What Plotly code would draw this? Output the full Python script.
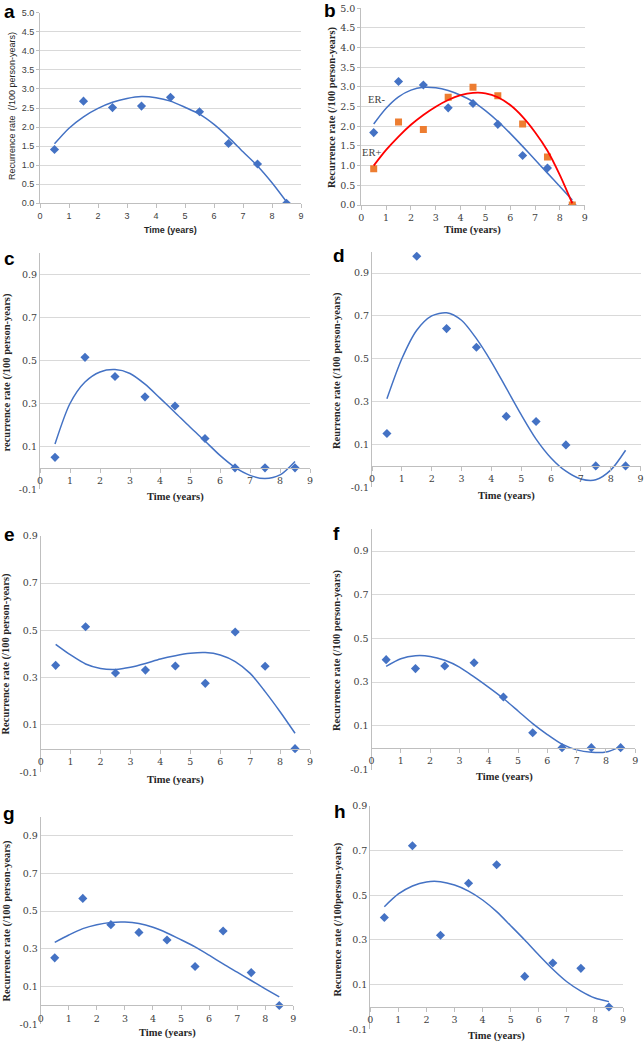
import plotly.graph_objects as go

W, H = 644, 1042

# observed recurrence rates at mid-year points
years = [0.5, 1.5, 2.5, 3.5, 4.5, 5.5, 6.5, 7.5, 8.5]
rate_a = [1.41, 2.68, 2.51, 2.55, 2.78, 2.40, 1.57, 1.03, 0.0]
rate_b_er_neg = [1.84, 3.14, 3.05, 2.47, 2.58, 2.05, 1.26, 0.94, 0.0]
rate_b_er_pos = [0.92, 2.11, 1.92, 2.74, 2.99, 2.78, 2.06, 1.22, 0.0]
rate_c = [0.049, 0.515, 0.426, 0.331, 0.288, 0.137, 0.0, 0.0, 0.0]
rate_d = [0.151, 0.979, 0.641, 0.554, 0.231, 0.207, 0.098, 0.0, 0.0]
rate_e = [0.352, 0.515, 0.320, 0.332, 0.349, 0.276, 0.493, 0.348, 0.0]
rate_f = [0.403, 0.362, 0.374, 0.389, 0.232, 0.068, 0.0, 0.0, 0.0]
rate_g = [0.252, 0.567, 0.428, 0.387, 0.347, 0.206, 0.394, 0.174, 0.0]
rate_h = [0.401, 0.722, 0.321, 0.554, 0.637, 0.137, 0.197, 0.173, 0.0]

# polynomial trendlines
trend_x = [0.5, 1.0, 1.5, 2.0, 2.5, 3.0, 3.5, 4.0, 4.5, 5.0, 5.5, 6.0, 6.5, 7.0, 7.5, 8.0, 8.5]
trend_a = [1.56, 1.97, 2.27, 2.49, 2.65, 2.75, 2.80, 2.77, 2.68, 2.52, 2.34, 2.07, 1.73, 1.35, 0.98, 0.54, 0.04]
trend_b_er_neg = [2.06, 2.46, 2.75, 2.92, 2.99, 2.98, 2.91, 2.79, 2.63, 2.40, 2.13, 1.82, 1.49, 1.15, 0.81, 0.47, 0.13]
trend_b_er_pos = [1.00, 1.40, 1.74, 2.04, 2.29, 2.50, 2.67, 2.79, 2.85, 2.84, 2.74, 2.54, 2.24, 1.85, 1.38, 0.76, 0.04]
trend_c = [0.111, 0.30, 0.40, 0.447, 0.458, 0.44, 0.39, 0.325, 0.258, 0.19, 0.125, 0.058, 0.002, -0.035, -0.05, -0.033, 0.03]
trend_d = [0.313, 0.50, 0.633, 0.70, 0.715, 0.68, 0.594, 0.486, 0.363, 0.239, 0.125, 0.037, -0.025, -0.061, -0.065, -0.02, 0.073]
trend_e = [0.441, 0.396, 0.358, 0.339, 0.335, 0.344, 0.36, 0.379, 0.393, 0.403, 0.406, 0.396, 0.368, 0.318, 0.241, 0.156, 0.065]
trend_f = [0.372, 0.407, 0.421, 0.418, 0.40, 0.369, 0.324, 0.276, 0.225, 0.168, 0.11, 0.06, 0.016, -0.01, -0.021, -0.02, 0.005]
trend_g = [0.334, 0.373, 0.407, 0.428, 0.44, 0.442, 0.434, 0.414, 0.384, 0.348, 0.31, 0.266, 0.22, 0.176, 0.132, 0.088, 0.045]
trend_h = [0.449, 0.506, 0.542, 0.56, 0.561, 0.546, 0.519, 0.479, 0.427, 0.364, 0.30, 0.233, 0.169, 0.113, 0.071, 0.040, 0.024]

x_ticks = list(range(10))
big_ticks = [0.0, 0.5, 1.0, 1.5, 2.0, 2.5, 3.0, 3.5, 4.0, 4.5, 5.0]
small_ticks = [-0.1, 0.1, 0.3, 0.5, 0.7, 0.9]
small_tick_text = ['-0.1', '0.1', '0.3', '0.5', '0.7', '0.9']

BLUE = '#4472C4'
ORANGE = '#ED7D31'
RED = '#FF0000'
GRID = '#D9D9D9'
AXIS = '#BFBFBF'
SANS = 'Liberation Sans'
SERIF = 'Liberation Serif'
TICKSERIF = 'DejaVu Serif'


def px(x):
    return x / W


def py(y):
    return 1 - y / H


# plot areas in pixels: left, right, top, bottom, y range
panels = [
    dict(letter='a', box=(40, 301, 12.7, 203.3), yr=(0, 5), rates=rate_a, trend=trend_a,
         ytitle='Recurrence rate  (/100 person-years)', ytpos=(12, 106), xtpos=(170, 230),
         lpos=(9, 12), sans=True),
    dict(letter='b', box=(361.3, 584.7, 8.3, 205), yr=(0, 5), rates=None, trend=None,
         ytitle='Recurrence rate (/100 person-years)', ytpos=(332, 107), xtpos=(472, 229.7),
         lpos=(330, 10)),
    dict(letter='c', box=(40, 310, 253.3, 489.3), yr=(-0.1, 1.0), rates=rate_c, trend=trend_c,
         ytitle='recurrence rate (/100 person-years)', ytpos=(6.5, 373), xtpos=(175, 497),
         lpos=(9, 258)),
    dict(letter='d', box=(372, 640.5, 251.7, 487.3), yr=(-0.1, 1.0), rates=rate_d, trend=trend_d,
         ytitle='Reurrence rate (/100 person-years)', ytpos=(337, 371), xtpos=(506, 495.7),
         lpos=(338.5, 256)),
    dict(letter='e', box=(40.7, 310, 535.7, 772.3), yr=(-0.1, 0.9), rates=rate_e, trend=trend_e,
         ytitle='Recurrence rate (/100 person-years)', ytpos=(5.5, 654), xtpos=(175.5, 780),
         lpos=(9, 534)),
    dict(letter='f', box=(371.5, 635.3, 529.3, 769.5), yr=(-0.1, 1.0), rates=rate_f, trend=trend_f,
         ytitle='Recurrence rate (/100 person-years)', ytpos=(337, 650), xtpos=(504, 776.7),
         lpos=(336.5, 533)),
    dict(letter='g', box=(40.7, 293.3, 816.7, 1024.3), yr=(-0.1, 1.0), rates=rate_g, trend=trend_g,
         ytitle='Recurrence rate (/100 person-years)', ytpos=(6, 920.5), xtpos=(167.5, 1032.7),
         lpos=(9, 813)),
    dict(letter='h', box=(370.3, 623, 806, 1029.3), yr=(-0.1, 0.9), rates=rate_h, trend=trend_h,
         ytitle='Recurence rate (/100person-years)', ytpos=(337, 919.5), xtpos=(496, 1035.5),
         lpos=(339.5, 811)),
]

fig = go.Figure()
layout = {}
annotations = []

for i, p in enumerate(panels):
    n = '' if i == 0 else str(i + 1)
    xa, ya = 'x' + n, 'y' + n
    left, right, top, bottom = p['box']
    ymin, ymax = p['yr']
    sans = p.get('sans', False)
    tick_font = dict(family=SANS if sans else TICKSERIF, size=9 if sans else 9.5, color='#404040')

    if p['letter'] == 'b':
        fig.add_trace(go.Scatter(x=years, y=rate_b_er_neg, mode='markers', xaxis=xa, yaxis=ya,
                                 marker=dict(symbol='diamond', size=7, color=BLUE), showlegend=False))
        fig.add_trace(go.Scatter(x=years, y=rate_b_er_pos, mode='markers', xaxis=xa, yaxis=ya,
                                 marker=dict(symbol='square', size=7, color=ORANGE), showlegend=False))
        fig.add_trace(go.Scatter(x=trend_x, y=trend_b_er_neg, mode='lines', xaxis=xa, yaxis=ya,
                                 line=dict(color=BLUE, width=1.5, shape='spline', smoothing=0.8),
                                 showlegend=False))
        fig.add_trace(go.Scatter(x=trend_x, y=trend_b_er_pos, mode='lines', xaxis=xa, yaxis=ya,
                                 line=dict(color=RED, width=1.8, shape='spline', smoothing=0.8),
                                 showlegend=False))
        annotations.append(dict(x=0.63, y=2.69, xref=xa, yref=ya, text='ER-', showarrow=False,
                                font=dict(family=SERIF, size=10.5, color='#404040')))
        annotations.append(dict(x=0.43, y=1.33, xref=xa, yref=ya, text='ER+', showarrow=False,
                                font=dict(family=SERIF, size=10.5, color='#404040')))
    else:
        fig.add_trace(go.Scatter(x=trend_x, y=p['trend'], mode='lines', xaxis=xa, yaxis=ya,
                                 line=dict(color=BLUE, width=1.5, shape='spline', smoothing=0.8),
                                 showlegend=False))
        fig.add_trace(go.Scatter(x=years, y=p['rates'], mode='markers', xaxis=xa, yaxis=ya,
                                 marker=dict(symbol='diamond', size=7, color=BLUE), showlegend=False))

    ydom = [py(bottom), py(top)]
    if ymin < 0:
        zero_px = bottom - (0 - ymin) / (ymax - ymin) * (bottom - top)
        xaxis = dict(anchor='free', position=py(zero_px))
        yaxis = dict(tickvals=small_ticks, ticktext=small_tick_text, ticks='')
    else:
        xaxis = dict(anchor=ya)
        yaxis = dict(tickvals=big_ticks, tickformat='.1f', ticks='outside', ticklen=3, tickcolor=AXIS)

    xaxis.update(domain=[px(left), px(right)], range=[0, 9], tickvals=x_ticks, showgrid=False,
                 zeroline=False, showline=True, linecolor=AXIS, linewidth=1, ticks='outside',
                 ticklen=4, tickcolor=AXIS, tickfont=tick_font, fixedrange=True, automargin=False)
    yaxis.update(domain=ydom, range=[ymin, ymax], anchor=xa, showgrid=True, gridcolor=GRID,
                 gridwidth=1, zeroline=False, showline=True, linecolor=AXIS, linewidth=1,
                 tickfont=tick_font, fixedrange=True, automargin=False)
    layout['xaxis' + n] = xaxis
    layout['yaxis' + n] = yaxis

    title_font = dict(family=SANS if sans else SERIF, size=9 if sans else 10.5, color='#262626')
    annotations.append(dict(x=px(p['ytpos'][0]), y=py(p['ytpos'][1]), xref='paper', yref='paper',
                            text=p['ytitle'] if sans else '<b>' + p['ytitle'] + '</b>',
                            textangle=-90, showarrow=False, xanchor='center', yanchor='middle',
                            font=title_font))
    annotations.append(dict(x=px(p['xtpos'][0]), y=py(p['xtpos'][1]), xref='paper', yref='paper',
                            text='<b>Time (years)</b>', showarrow=False, xanchor='center',
                            yanchor='middle', font=title_font))
    annotations.append(dict(x=px(p['lpos'][0]), y=py(p['lpos'][1]), xref='paper', yref='paper',
                            text='<b>' + p['letter'] + '</b>', showarrow=False, xanchor='center',
                            yanchor='middle', font=dict(family=SANS, size=19, color='black')))

fig.update_layout(
    width=W,
    height=H,
    margin=dict(l=0, r=0, t=0, b=0),
    paper_bgcolor='white',
    plot_bgcolor='white',
    hovermode=False,
    annotations=annotations,
    **layout
)

# the page body has a default margin; drop it so the figure sits at the window corner
fig.write_html("out.html", config={'displayModeBar': False},
               post_script="document.body.style.margin = '0';")
